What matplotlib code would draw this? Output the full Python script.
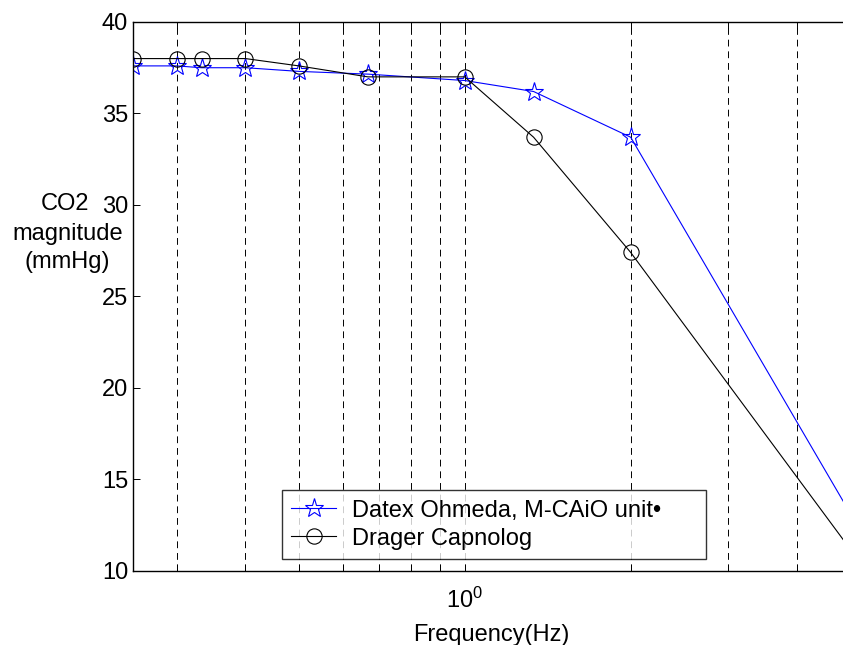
# CO2 magnitude versus frequency for two capnographs (log frequency axis).
import matplotlib
matplotlib.use("Agg")
import matplotlib.pyplot as plt
from matplotlib.ticker import LogLocator, NullFormatter

# Data (last point lies past the right edge)
freq_Hz = [0.25, 0.3, 0.333, 0.4, 0.5, 0.667, 1.0, 1.333, 2.0, 6.67]
datex_mmHg = [37.6, 37.6, 37.5, 37.5, 37.3, 37.15, 36.8, 36.2, 33.7, 6.7]
drager_mmHg = [38.0, 38.0, 38.0, 38.0, 37.6, 37.0, 37.0, 33.7, 27.4, 6.1]

legend_labels = ["Datex Ohmeda, M-CAiO unit\u2022", "Drager Capnolog"]
y_ticks = [10, 15, 20, 25, 30, 35, 40]
ylabel_lines = ["CO2", "magnitude", "(mmHg)"]

plt.rcParams["font.family"] = ["Liberation Sans", "DejaVu Sans"]
plt.rcParams["mathtext.default"] = "regular"

fig = plt.figure(figsize=(8.43, 6.45), dpi=100)
# axes runs a little past the right edge of the picture, as in the reference
ax = fig.add_axes([133 / 843, 74.3 / 645, (850 - 133) / 843, 548.7 / 645])

ax.plot(freq_Hz, datex_mmHg, color="blue", linewidth=0.8, marker="*",
        markersize=14, markerfacecolor="none", markeredgecolor="blue",
        markeredgewidth=0.8, label=legend_labels[0])
ax.plot(freq_Hz, drager_mmHg, color="black", linewidth=0.8, marker="o",
        markersize=11, markerfacecolor="none", markeredgecolor="black",
        markeredgewidth=0.8, label=legend_labels[1])

ax.set_xscale("log")
ax.set_xlim(0.25, 5.0)
ax.set_ylim(10, 40)
ax.set_yticks(y_ticks)
ax.xaxis.set_major_locator(LogLocator(base=10, numticks=10))
ax.xaxis.set_minor_locator(LogLocator(base=10, subs=range(2, 10), numticks=20))
ax.xaxis.set_minor_formatter(NullFormatter())

# vertical dashed grid only
ax.grid(True, which="both", axis="x", color="black", linestyle=(0, (7, 5)),
        linewidth=0.7)
ax.grid(False, axis="y")

ax.tick_params(which="both", direction="in", top=True, right=True,
               labelsize=17, width=0.7, length=5)
ax.tick_params(axis="x", pad=12)
for s in ax.spines.values():
    s.set_linewidth(1.0)

ax.set_xlabel("Frequency(Hz)", fontsize=17, labelpad=8)

# horizontal y label, one line at a time
label_x = [64.5, 67.5, 67.5]
label_base = [210, 240, 268]
for txt, lx, ly in zip(ylabel_lines, label_x, label_base):
    fig.text(lx / 843, 1 - ly / 645, txt, fontsize=17, ha="center",
             va="baseline")

leg = ax.legend(loc="lower left", mode="expand", fontsize=17,
                bbox_to_anchor=((282 - 133) / 717, (570.7 - 559) / 548.7,
                                424 / 717, 70 / 548.7),
                frameon=True, fancybox=False, borderpad=0.4,
                labelspacing=0.25, handlelength=1.9, handletextpad=0.65,
                borderaxespad=0)
leg.get_frame().set_edgecolor("black")
leg.get_frame().set_linewidth(1.0)

fig.savefig("out.png", dpi=100)
